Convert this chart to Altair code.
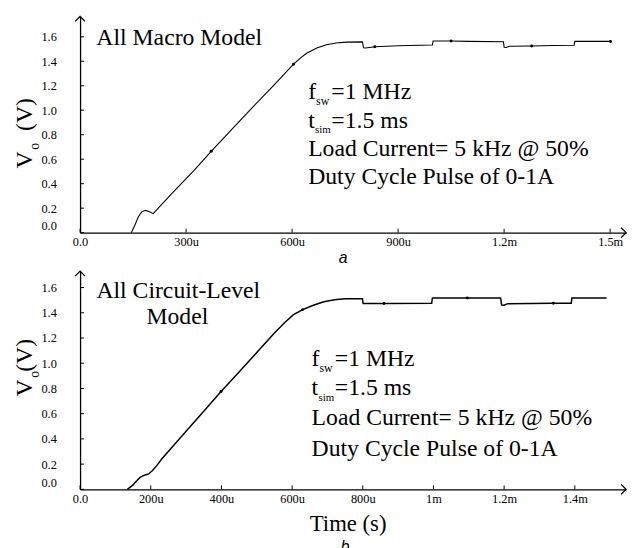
import json
import altair as alt
import pandas as pd

SERIF = "Liberation Serif"
SANS = "Liberation Sans"

# ---------------- data (time in microseconds, Vo in volts) ----------------
# (a) All Macro Model
a_time = [145, 155, 165, 175, 185, 195, 207, 260, 320, 371, 430, 490, 550, 604,
          625, 641, 670, 697, 725, 753, 799, 802, 808, 834, 900, 997, 999, 1050,
          1100, 1198, 1200, 1206, 1215, 1278, 1340, 1398, 1400, 1450, 1501]
a_volt = [0.0, 0.06, 0.13, 0.172, 0.182, 0.172, 0.155, 0.32, 0.5, 0.664, 0.845,
          1.03, 1.21, 1.376, 1.43, 1.465, 1.508, 1.535, 1.549, 1.556, 1.558, 1.51,
          1.508, 1.518, 1.526, 1.532, 1.565, 1.565, 1.562, 1.559, 1.515, 1.512,
          1.522, 1.525, 1.528, 1.531, 1.562, 1.562, 1.562]
a_dot_time = [371, 604, 834, 1050, 1278, 1501]
a_dot_volt = [0.664, 1.376, 1.518, 1.565, 1.525, 1.562]

# (b) All Circuit-Level Model
b_time = [134, 150, 161, 170, 180, 194, 205, 217, 231, 300, 350, 399, 450, 500,
          550, 580, 604, 630, 660, 690, 720, 750, 799, 801, 860, 995, 997, 1190,
          1193, 1200, 1210, 1339, 1390, 1392, 1490]
b_volt = [0.0, 0.035, 0.07, 0.095, 0.11, 0.122, 0.15, 0.188, 0.24, 0.46, 0.62,
          0.775, 0.93, 1.085, 1.24, 1.325, 1.385, 1.425, 1.46, 1.488, 1.503,
          1.511, 1.512, 1.473, 1.473, 1.475, 1.518, 1.518, 1.462, 1.46, 1.472,
          1.475, 1.476, 1.518, 1.518]
b_dot_time = [399, 630, 860, 1096, 1339]
b_dot_volt = [0.775, 1.425, 1.473, 1.518, 1.475]

# ticks
a_xticks = [0, 300, 600, 900, 1200, 1500]
a_xlabels = ["0.0", "300u", "600u", "900u", "1.2m", "1.5m"]
b_xticks = [0, 200, 400, 600, 800, 1000, 1200, 1400]
b_xlabels = ["0.0", "200u", "400u", "600u", "800u", "1m", "1.2m", "1.4m"]
y_ticks = [0.0, 0.2, 0.4, 0.6, 0.8, 1.0, 1.2, 1.4, 1.6]

note_lines = ["=1 MHz", "=1.5 ms", "Load Current= 5 kHz @ 50%", "Duty Cycle Pulse of 0-1A"]

X_MAX = 1545
WIDTH = 553
DUMMY = pd.DataFrame({"k": [0]})


def label(text, x, y, size=24, align="left", baseline="alphabetic", font=SERIF,
          style="normal", angle=0):
    return alt.Chart(DUMMY).mark_text(
        text=text, align=align, baseline=baseline, font=font, fontSize=size,
        fontStyle=style, angle=angle, color="black"
    ).encode(x=alt.value(x), y=alt.value(y))


def panel(t, v, dt, dv, xticks, xlabels, ymax, height, extra, lw):
    lab_expr = "%s[indexof(%s, datum.value)]" % (json.dumps(xlabels), json.dumps(xticks))
    X = alt.X("t:Q", scale=alt.Scale(domain=[0, X_MAX], nice=False, zero=False),
              axis=alt.Axis(values=xticks, labelExpr=lab_expr, ticks=False, tickSize=0,
                            domainColor="black", domainWidth=1.3, labelFont=SERIF,
                            labelFontSize=12.5, labelColor="black", labelPadding=3,
                            labelFlush=False, labelOverlap=False, grid=False, title=None))
    Y = alt.Y("v:Q", scale=alt.Scale(domain=[0, ymax], nice=False, zero=False),
              axis=alt.Axis(values=y_ticks, format=".1f", ticks=False, tickSize=0,
                            domainColor="black", domainWidth=1.3, labelFont=SERIF,
                            labelFontSize=12.5, labelColor="black", labelPadding=24,
                            labelFlush=True, labelOverlap=False, grid=False, title=None))
    curve = alt.Chart(pd.DataFrame({"t": t, "v": v})).mark_line(
        color="black", strokeWidth=lw).encode(x=X, y=Y)
    dots = alt.Chart(pd.DataFrame({"t": dt, "v": dv})).mark_circle(
        color="black", size=9, opacity=1).encode(x=X, y=Y)
    xt = alt.Chart(pd.DataFrame({"t": xticks})).mark_rule(
        color="black", strokeWidth=1).encode(x=X, y=alt.value(height), y2=alt.value(height - 4))
    yt = alt.Chart(pd.DataFrame({"v": y_ticks})).mark_rule(
        color="black", strokeWidth=1).encode(y=Y, x=alt.value(0), x2=alt.value(4))
    yarrow = alt.Chart(pd.DataFrame({"t": [0], "v": [ymax]})).mark_point(
        shape="M-1,1L0,0L1,1", size=100, filled=False, color="black",
        strokeWidth=1.3, opacity=1).encode(x=X, y=Y)
    xarrow = alt.Chart(pd.DataFrame({"t": [X_MAX], "v": [0]})).mark_point(
        shape="M-1,-1L0,0L-1,1", size=100, filled=False, color="black",
        strokeWidth=1.3, opacity=1).encode(x=X, y=Y)
    return alt.layer(curve, dots, xt, yt, yarrow, xarrow, *extra).properties(
        width=WIDTH, height=height)


def notes(x0, ys):
    out = [
        label("f", x0, ys[0]),
        label("sw", x0 + 8, ys[0] + 6, size=12),
        label(note_lines[0], x0 + 23.5, ys[0]),
        label("t", x0, ys[1]),
        label("sim", x0 + 7, ys[1] + 6, size=11),
        label(note_lines[1], x0 + 23.5, ys[1]),
        label(note_lines[2], x0, ys[2]),
        label(note_lines[3], x0, ys[3]),
    ]
    return out


def ytitle(v_start, o_start, p_start):
    return [
        label("V", -48.5, v_start, size=24, angle=270),
        label("o", -42, o_start, size=14, angle=270),
        label("(V)", -48.5, p_start, size=24, angle=270),
    ]


anchor = alt.Chart(DUMMY).mark_rule(opacity=0).encode(
    x=alt.value(-72.5), x2=alt.value(-72.5), y=alt.value(-5), y2=alt.value(-4))

TOP_H = 219
BOT_H = 221

top_extra = [anchor, label("All Macro Model", 16.5, 28.7)] + notes(231, [83.7, 112.5, 141, 169.5]) \
    + ytitle(154, 135, 116) + [label("a", 266.5, TOP_H + 26, size=16, font=SANS,
                                     style="italic", align="center", baseline="middle")]

bot_extra = [label("All Circuit-Level", 99.5, 27.3, align="center"),
             label("Model", 98.5, 54, align="center")] + notes(234.5, [95.7, 125.7, 155.7, 187.3]) \
    + ytitle(127, 108, 102) + [
        label("Time (s)", 271.5, BOT_H + 42, size=23, align="center"),
        label("b", 268.5, BOT_H + 58, size=16, font=SANS, style="italic",
              align="center", baseline="middle")]

top = panel(a_time, a_volt, a_dot_time, a_dot_volt, a_xticks, a_xlabels, 1.766, TOP_H, top_extra, 1.1)
bottom = panel(b_time, b_volt, b_dot_time, b_dot_volt, b_xticks, b_xlabels, 1.73, BOT_H, bot_extra, 1.5)

chart = alt.vconcat(top, bottom, spacing=39, bounds="flush").resolve_scale(
    x="independent", y="independent").properties(padding=0).configure_view(stroke=None)

chart.save("out.html", embed_options={"renderer": "svg", "actions": False})
